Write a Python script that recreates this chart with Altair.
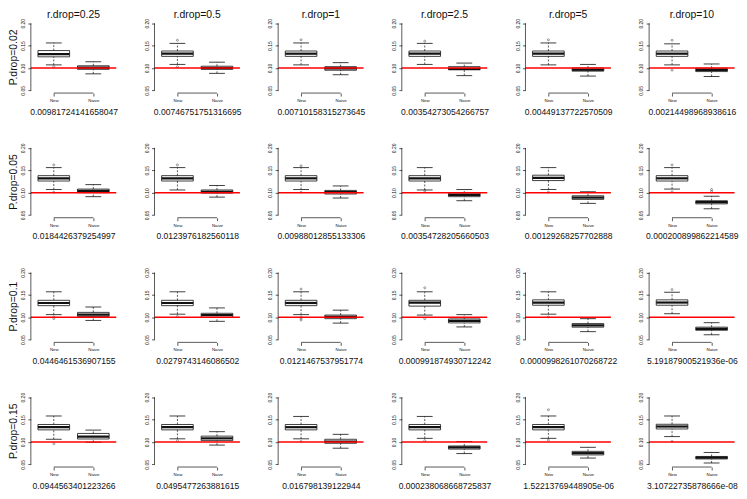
import altair as alt
import pandas as pd

# ---------------- data ----------------
r_drops = ["0.25", "0.5", "1", "2.5", "5", "10"]
p_drops = ["0.02", "0.05", "0.1", "0.15"]
groups = ["New", "Naive"]
y_ticks = [0.05, 0.10, 0.15, 0.20]
reference_line = 0.10

p_values = [
    ["0.00981724141658047", "0.00746751751316695", "0.00710158315273645",
     "0.00354273054266757", "0.00449137722570509", "0.00214498968938616"],
    ["0.0184426379254997", "0.0123976182560118", "0.00988012855133306",
     "0.00354728205660503", "0.00129268257702888", "0.000200899862214589"],
    ["0.0446461536907155", "0.0279743146086502", "0.0121467537951774",
     "0.000991874930712242", "0.0000998261070268722", "5.19187900521936e-06"],
    ["0.0944563401223266", "0.0495477263881615", "0.016798139122944",
     "0.000238068668725837", "1.52213769448905e-06", "3.10722735878666e-08"],
]

# New estimator: lower whisker, Q1, median, Q3, upper whisker
new_lo = [[0.107, 0.108, 0.107, 0.108, 0.107, 0.107],
          [0.107, 0.106, 0.107, 0.106, 0.107, 0.108],
          [0.106, 0.107, 0.106, 0.105, 0.107, 0.108],
          [0.106, 0.107, 0.107, 0.108, 0.108, 0.112]]
new_q1 = [[0.125, 0.126, 0.126, 0.126, 0.126, 0.126],
          [0.126, 0.126, 0.126, 0.126, 0.127, 0.126],
          [0.126, 0.126, 0.126, 0.125, 0.127, 0.127],
          [0.127, 0.127, 0.127, 0.127, 0.127, 0.129]]
new_med = [[0.131, 0.132, 0.132, 0.132, 0.132, 0.132],
           [0.132, 0.132, 0.132, 0.132, 0.133, 0.132],
           [0.132, 0.132, 0.132, 0.133, 0.133, 0.133],
           [0.133, 0.133, 0.133, 0.133, 0.133, 0.1345]]
new_q3 = [[0.139, 0.138, 0.138, 0.138, 0.138, 0.138],
          [0.138, 0.138, 0.138, 0.138, 0.139, 0.138],
          [0.138, 0.138, 0.138, 0.138, 0.139, 0.139],
          [0.139, 0.139, 0.139, 0.139, 0.139, 0.1395]]
new_hi = [[0.156, 0.155, 0.156, 0.155, 0.156, 0.154],
          [0.156, 0.156, 0.156, 0.156, 0.156, 0.156],
          [0.157, 0.157, 0.157, 0.157, 0.157, 0.156],
          [0.158, 0.158, 0.157, 0.157, 0.158, 0.158]]
new_out = [[[0.103], [0.162, 0.103], [0.163], [0.160], [0.163], [0.162, 0.095]],
           [[0.162, 0.101], [0.162], [0.160, 0.101], [0.104], [0.101], [0.162, 0.102]],
           [[0.101, 0.097], [0.102], [0.163, 0.101, 0.098, 0.094], [0.166, 0.097], [0.101], [0.162]],
           [[0.096], [0.103], [0.101], [0.103], [0.172, 0.104], [0.101]]]

# Naive estimator
naive_lo = [[0.087, 0.088, 0.085, 0.083, 0.082, 0.081],
            [0.091, 0.090, 0.088, 0.082, 0.076, 0.064],
            [0.093, 0.091, 0.087, 0.0785, 0.068, 0.061],
            [0.0994, 0.093, 0.086, 0.074, 0.064, 0.053]]
naive_q1 = [[0.097, 0.097, 0.095, 0.096, 0.093, 0.092],
            [0.100, 0.099, 0.097, 0.091, 0.085, 0.075],
            [0.102, 0.100, 0.097, 0.0875, 0.078, 0.071],
            [0.1066, 0.103, 0.097, 0.084, 0.071, 0.062]]
naive_med = [[0.101, 0.100, 0.099, 0.098, 0.096, 0.096],
             [0.104, 0.102, 0.101, 0.095, 0.089, 0.079],
             [0.106, 0.105, 0.101, 0.092, 0.082, 0.074],
             [0.1117, 0.108, 0.101, 0.088, 0.075, 0.0648]]
naive_q3 = [[0.105, 0.104, 0.103, 0.103, 0.100, 0.0995],
            [0.108, 0.106, 0.105, 0.099, 0.093, 0.082],
            [0.111, 0.109, 0.105, 0.0964, 0.086, 0.078],
            [0.119, 0.113, 0.106, 0.091, 0.079, 0.0676]]
naive_hi = [[0.114, 0.113, 0.112, 0.111, 0.108, 0.109],
            [0.118, 0.116, 0.115, 0.107, 0.102, 0.092],
            [0.123, 0.121, 0.116, 0.106, 0.097, 0.088],
            [0.1265, 0.123, 0.117, 0.101, 0.088, 0.0765]]
naive_out = [[[], [], [], [], [], []],
             [[], [], [], [], [], [0.103, 0.107]],
             [[], [], [], [], [], []],
             [[], [], [], [], [], []]]

# ---------------- tables ----------------
stat_rows, out_rows, frame_rows = [], [], []
for i in range(len(p_drops)):
    for j in range(len(r_drops)):
        k = i * len(r_drops) + j
        for g, (lo, q1, md, q3, hi, outs) in enumerate([
                (new_lo, new_q1, new_med, new_q3, new_hi, new_out),
                (naive_lo, naive_q1, naive_med, naive_q3, naive_hi, naive_out)]):
            stat_rows.append(dict(panel=k, group=groups[g], gx=g + 1,
                                  lo=lo[i][j], q1=q1[i][j], med=md[i][j],
                                  q3=q3[i][j], hi=hi[i][j]))
            for v in outs[i][j]:
                out_rows.append(dict(panel=k, gx=g + 1, value=v))
        frame_rows.append(dict(panel=k, ylo=y_ticks[0], yhi=y_ticks[-1],
                               xlo=1, xhi=len(groups), ref=reference_line))

stats = pd.DataFrame(stat_rows)
outl = pd.DataFrame(out_rows)
frame = pd.DataFrame(frame_rows)

# ---------------- styling ----------------
FONT = "Liberation Sans"
W, H = 86, 73
xs = alt.Scale(domain=[0.42, 2.58], nice=False, zero=False)
ys = alt.Scale(domain=[0.044, 0.206], nice=False, zero=False)
INK = "#111111"


def panel(i, j):
    k = i * len(r_drops) + j
    flt = alt.datum.panel == k
    x_axis = alt.Axis(values=[1, 2], labelExpr="datum.value == 1 ? 'New' : 'Naive'",
                      domain=False, grid=False, tickSize=3, tickColor=INK,
                      tickWidth=0.7, labelFontSize=4.4, labelPadding=2.5,
                      labelColor=INK, labelFont=FONT, labelOverlap=False,
                      title=p_values[i][j],
                      titleFont=FONT, titleFontSize=8.6, titleFontWeight="normal",
                      titleColor=INK, titlePadding=5.5)
    y_axis = alt.Axis(values=y_ticks, labelExpr="format(datum.value, '.2f')",
                      domain=False, grid=False,
                      tickSize=3, tickColor=INK, tickWidth=0.7, labelAngle=270,
                      labelAlign="center", labelBaseline="bottom", labelFontSize=5,
                      labelPadding=2.5, labelColor=INK, labelFont=FONT,
                      labelOverlap=False, labelFlush=False,
                      title=("P.drop=" + p_drops[i]) if j == 0 else "",
                      titleFont=FONT, titleFontSize=10.5, titleFontWeight="normal",
                      titleColor=INK, titlePadding=2)

    def X(f):
        return alt.X(f, scale=xs, axis=x_axis)

    def Y(f):
        return alt.Y(f, scale=ys, axis=y_axis)

    base = alt.Chart(stats).transform_filter(flt).transform_calculate(
        bx0="datum.gx - 0.4", bx1="datum.gx + 0.4",
        cx0="datum.gx - 0.2", cx1="datum.gx + 0.2")

    box = base.mark_rect(fill="white", stroke=INK, strokeWidth=0.8).encode(
        x=X("bx0:Q"), x2="bx1:Q", y=Y("q1:Q"), y2="q3:Q")
    wh_up = base.mark_rule(color=INK, strokeWidth=0.7, strokeDash=[2, 1.5]).encode(
        x=X("gx:Q"), y=Y("q3:Q"), y2="hi:Q")
    wh_dn = base.mark_rule(color=INK, strokeWidth=0.7, strokeDash=[2, 1.5]).encode(
        x=X("gx:Q"), y=Y("lo:Q"), y2="q1:Q")
    cap_up = base.mark_rule(color=INK, strokeWidth=0.8).encode(
        x=X("cx0:Q"), x2="cx1:Q", y=Y("hi:Q"))
    cap_dn = base.mark_rule(color=INK, strokeWidth=0.8).encode(
        x=X("cx0:Q"), x2="cx1:Q", y=Y("lo:Q"))
    median = base.mark_rule(color=INK, strokeWidth=2.2).encode(
        x=X("bx0:Q"), x2="bx1:Q", y=Y("med:Q"))
    pts = alt.Chart(outl).transform_filter(flt).mark_point(
        shape="circle", size=4, filled=False, color=INK, strokeWidth=0.6).encode(
        x=X("gx:Q"), y=Y("value:Q"))

    fb = alt.Chart(frame).transform_filter(flt)
    red = fb.mark_rule(color="#ff0000", strokeWidth=1.5).encode(y=Y("ref:Q"))
    yline = fb.mark_rule(color=INK, strokeWidth=0.7).encode(
        x=alt.value(0), y=Y("ylo:Q"), y2="yhi:Q")
    xline = fb.mark_rule(color=INK, strokeWidth=0.7).encode(
        y=alt.value(H), x=X("xlo:Q"), x2="xhi:Q")

    layer = alt.layer(box, wh_up, wh_dn, cap_up, cap_dn, median, pts, red,
                      yline, xline)
    props = dict(width=W, height=H)
    if i == 0:
        props["title"] = alt.Title("r.drop=" + r_drops[j], font=FONT, fontSize=10.5,
                                   fontWeight="normal", color=INK, offset=-2.5)
    return layer.properties(**props)


panels = [panel(i, j) for i in range(len(p_drops)) for j in range(len(r_drops))]

chart = alt.concat(*panels, columns=6, spacing={"row": 52.5, "column": 38.5},
                   bounds="flush").properties(padding=0).configure_view(stroke=None)

chart.save("out.html", embed_options={"renderer": "svg", "actions": False})
